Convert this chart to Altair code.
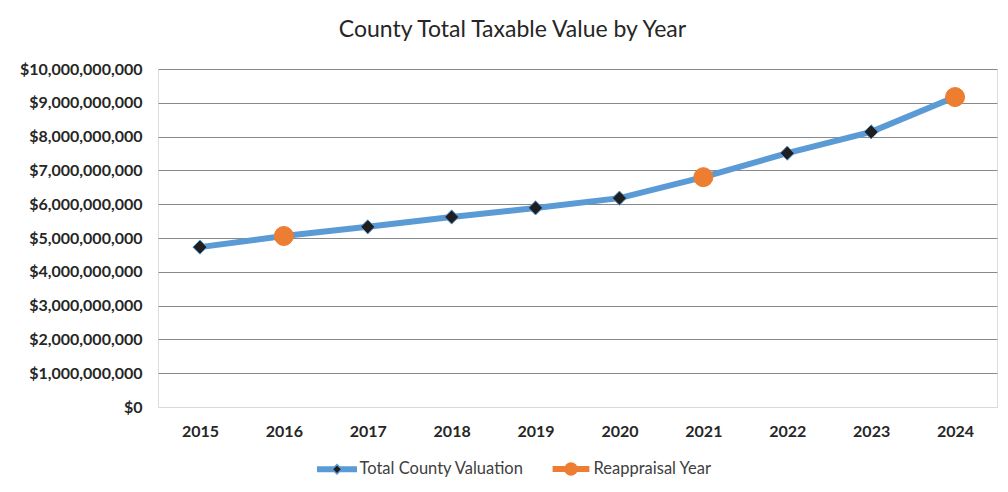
import altair as alt
import pandas as pd

# ---- data ----
years = ["2015", "2016", "2017", "2018", "2019", "2020", "2021", "2022", "2023", "2024"]
values = [4.73e9, 5.06e9, 5.33e9, 5.62e9, 5.89e9, 6.18e9, 6.80e9, 7.51e9, 8.14e9, 9.17e9]
reappraisal_years = ["2016", "2021", "2024"]
y_ticks = [0, 1e9, 2e9, 3e9, 4e9, 5e9, 6e9, 7e9, 8e9, 9e9, 1e10]

SERIES_LINE = "Total County Valuation"
SERIES_RE = "Reappraisal Year"
legend_labels = [SERIES_LINE, SERIES_RE]

BLUE = "#5B9BD5"
ORANGE = "#ED7D31"
DARK = "#1F1F1F"
FONT = "Lato"

df = pd.DataFrame({"year": years, "value": values})
df["kind"] = [SERIES_RE if y in reappraisal_years else SERIES_LINE for y in years]
df["series"] = SERIES_LINE

x = alt.X(
    "year:O",
    scale=alt.Scale(type="point", padding=0.5),
    axis=alt.Axis(
        title=None, labelAngle=0, labelFont=FONT, labelFontWeight="bold",
        labelFontSize=16, labelColor="#262626", labelPadding=16,
        ticks=False, domain=False, grid=False,
    ),
)
y = alt.Y(
    "value:Q",
    scale=alt.Scale(domain=[0, 1e10], nice=False),
    axis=alt.Axis(
        title=None, values=y_ticks, format="$,.0f", labelFont=FONT,
        labelFontWeight="bold", labelFontSize=16, labelColor="#262626",
        labelPadding=16, ticks=False, domain=False,
        gridColor=alt.condition("datum.value === 0", alt.value("#D9D9D9"), alt.value("#898989")),
        gridWidth=1.2,
    ),
)

# legend glyphs: a thick line (drawn as parallel thin strokes) with the marker on it
band = [-0.1125, -0.0375, 0.0375, 0.1125]
dh = 0.24
diamond_glyph = "".join(
    f"M-1,{yy}H{-(dh - abs(yy)):.4f}M{dh - abs(yy):.4f},{yy}H1" for yy in band
) + f"M0,-{dh}L{dh},0L0,{dh}L-{dh},0Z"
cr = 0.3
circle_glyph = "".join(f"M-0.92,{yy}H0.92" for yy in band) + (
    f"M-{cr},0A{cr},{cr},0,1,1,{cr},0A{cr},{cr},0,1,1,-{cr},0Z"
)

leg = alt.Legend(
    title=None, orient="none", legendX=158, legendY=379,
    direction="horizontal", symbolSize=1600, symbolStrokeWidth=1.5,
    labelFont=FONT, labelFontSize=16.5, labelColor="#404040", labelOffset=1.5,
    labelLimit=400, columnPadding=25, padding=0,
)

line = alt.Chart(df).mark_line(strokeWidth=6).encode(
    x=x, y=y,
    stroke=alt.Stroke(
        "series:N",
        scale=alt.Scale(domain=legend_labels, range=[BLUE, ORANGE]),
        legend=leg,
    ),
)

is_re = f"datum.kind === '{SERIES_RE}'"
points = alt.Chart(df).mark_point(filled=True, opacity=1).encode(
    x=x, y=y,
    shape=alt.condition(is_re, alt.value("circle"), alt.value("diamond")),
    size=alt.condition(is_re, alt.value(361), alt.value(200)),
    fill=alt.condition(is_re, alt.value(ORANGE), alt.value(DARK)),
    stroke=alt.condition(is_re, alt.value(ORANGE), alt.value(BLUE)),
    strokeWidth=alt.value(1),
)

legend_markers = alt.Chart(df).transform_filter("false").mark_point(filled=True, opacity=1).encode(
    x=x, y=y,
    fill=alt.Fill(
        "kind:N",
        scale=alt.Scale(domain=legend_labels, range=[DARK, ORANGE]),
        legend=leg,
    ),
    shape=alt.Shape(
        "kind:N",
        scale=alt.Scale(domain=legend_labels, range=[diamond_glyph, circle_glyph]),
        legend=leg,
    ),
)

chart = (
    alt.layer(line, legend_markers, points)
    .properties(
        width=839,
        height=338,
        autosize=alt.AutoSizeParams(type="none"),
        padding={"left": 150, "top": 61, "right": 3, "bottom": 77},
        title=alt.TitleParams(
            "County Total Taxable Value by Year",
            font=FONT, fontSize=23, fontWeight="normal", color="#262626",
            anchor="middle", dx=-65, offset=19,
        ),
    )
    .configure_view(stroke=None)
    .configure(background="white")
)

chart.save("out.html", embed_options={"renderer": "svg", "actions": False})
